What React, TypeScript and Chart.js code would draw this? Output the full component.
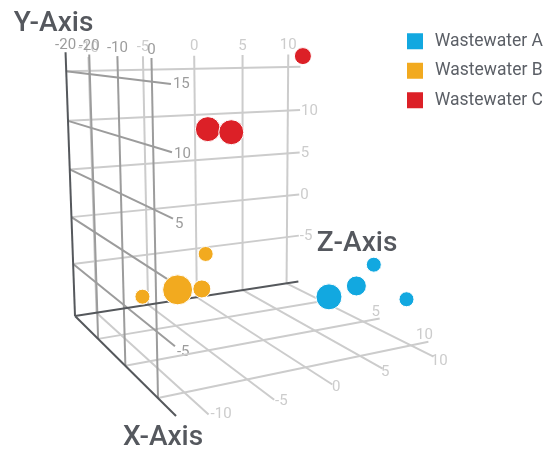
import React, { useEffect, useRef } from "react";
import { Chart, registerables } from "chart.js";

Chart.register(...registerables);

// ---- data: [x, y, z], plus bubble size
const seriesNames = ["Wastewater A", "Wastewater B", "Wastewater C"];
const seriesColors = ["#12a8e0", "#f2aa1f", "#dc2027"];
const wastewaterA = [
  [10, -4.5, 2.0, 26],
  [10, -3.9, 4.5, 20],
  [10, -2.15, 6.1, 15],
  [10, -6, 9.4, 15],
];
const wastewaterB = [
  [5, -4.35, -7.6, 30],
  [0, -7.2, -2.5, 18],
  [0, -3.55, -2.1, 15],
  [5, -4.5, -10.5, 15],
];
const wastewaterC = [
  [0, 16.4, 7.6, 17],
  [5, 10.2, -4.9, 25],
  [5, 9.8, -2.9, 25],
];

// ---- axes
const xTicks = [-5, 0, 5, 10];
const yTicks = [-5, 0, 5, 10, 15];
const zTicks = [-10, -5, 0, 5, 10];
const xRange = [-5, 12.4];
const yRange = [-10.68, 16.9];
const zRange = [-12, 11.4];
const floorZLineEnds = [13, 13, 12.75, 12.2, 12.1];
const wallTopLabels = ["-20", "-20", "-10", "0"];
const backTopLabels = ["-10", "-5", "0", "5", "10"];
const sideYLabels = ["-5", "0", "5", "10", "15"];
const backYLabels = ["-5", "0", "5", "10"];
const floorZLabels = ["-10", "-5", "0", "5", "10"];
const floorXLabels = ["0", "5", "10"];

// ---- camera: three vanishing points with the origin of the box
const project = (X: number, Y: number, Z: number) => {
  const a = -(X + 5) * 0.0152;
  const t = -(Y + 10.68) * 0.001858;
  const s = (Z + 12) * 0.00596;
  const w = 1 + a + t + s;
  return {
    x: (75 - 206 * a + 250 * t + 1900 * s) / w,
    y: (316 + 38 * a + 5200 * t + 35 * s) / w,
  };
};

const LIGHT = "#cccccc";
const MID = "#9c9c9c";
const DARK = "#55585c";
const TITLE = "#55585e";
const LIGHT_TOP = 16.4;
const sideLabelNudge = [6, 6, 6, 2, 0];

const seg = (
  from: number[],
  to: number[],
  color: string,
  order: number,
  width = 2
) => ({
  type: "line" as const,
  label: "grid",
  data: [project(from[0], from[1], from[2]), project(to[0], to[1], to[2])],
  borderColor: color,
  backgroundColor: color,
  borderWidth: width,
  pointRadius: 0,
  order,
  clip: false,
});

const gridDatasets = () => {
  const [x0, x1] = xRange;
  const [y0, y1] = yRange;
  const [z0, z1] = zRange;
  const out: any[] = [];
  zTicks.forEach((z, i) => {
    out.push(seg([x0, y0, z], [x0, LIGHT_TOP, z], LIGHT, 5));
    out.push(seg([x0, y0, z], [floorZLineEnds[i], y0, z], LIGHT, 5));
  });
  yTicks.forEach((y) => out.push(seg([x0, y, z0], [x0, y, z1], LIGHT, 5)));
  xTicks.slice(1).forEach((x) => {
    out.push(seg([x, y0, z0], [x, y0, z1 + 0.4], LIGHT, 5));
    out.push(seg([x, y0, z0], [x, y1 - 0.1, z0], MID, 4));
  });
  yTicks.forEach((y) => out.push(seg([x0, y, z0], [x1, y, z0], MID, 4)));
  out.push(seg([x0, y0, z0], [x1, y0, z0], DARK, 3));
  out.push(seg([x0, y0, z0], [x0, y1, z0], DARK, 3));
  out.push(seg([x0, y0, z0], [x0, y0, z1], DARK, 3));
  return out;
};

const bubbles = (rows: number[][], i: number) => ({
  type: "bubble" as const,
  label: seriesNames[i],
  data: rows.map(([x, y, z, size]) => ({ ...project(x, y, z), r: size / 2 })),
  backgroundColor: seriesColors[i],
  borderColor: "#ffffff",
  borderWidth: 1,
  order: 1,
  clip: false,
});

const textPlugin = {
  id: "axisText",
  afterLayout(chart: any) {
    const lg = chart.legend;
    if (lg) {
      lg.left = 395;
      lg.right = 546;
      lg.top = 20.5;
      lg.bottom = 130;
    }
  },
  beforeDatasetsDraw(chart: any) {
    const { ctx, scales } = chart;
    const put = (
      p: { x: number; y: number },
      dx: number,
      dy: number,
      text: string,
      color: string,
      align: CanvasTextAlign = "center",
      font = "400 15px Roboto"
    ) => {
      ctx.save();
      ctx.font = font;
      ctx.fillStyle = color;
      ctx.textAlign = align;
      ctx.textBaseline = "middle";
      ctx.fillText(
        text,
        scales.x.getPixelForValue(p.x) + dx,
        scales.y.getPixelForValue(p.y) + dy
      );
      ctx.restore();
    };
    const [x0, x1] = xRange;
    const [y0, y1] = yRange;
    const [z0, z1] = zRange;
    zTicks.forEach((z, i) =>
      put(project(x0, LIGHT_TOP, z), 0, -9, backTopLabels[i], LIGHT)
    );
    xTicks.forEach((x, i) =>
      put(project(x, y1 - 0.1, z0), 0, -8, wallTopLabels[i], MID)
    );
    yTicks.forEach((y, i) =>
      put(project(x1, y, z0), 2, sideLabelNudge[i], sideYLabels[i], MID, "left")
    );
    yTicks.slice(0, 4).forEach((y, i) =>
      put(project(x0, y, z1), 1, 1, backYLabels[i], LIGHT, "left")
    );
    zTicks.forEach((z, i) =>
      put(
        project(floorZLineEnds[i], y0, z),
        2 - i * 1.2,
        i * 1.2,
        floorZLabels[i],
        LIGHT,
        "left"
      )
    );
    xTicks.slice(1).forEach((x, i) =>
      put(project(x, y0, z1 + 0.4), -4, -6, floorXLabels[i], LIGHT)
    );
    const title = "500 28px Roboto";
    put({ x: 53.5, y: 24 }, 0, 0, "Y-Axis", TITLE, "center", title);
    put({ x: 163, y: 438 }, 0, 0, "X-Axis", TITLE, "center", title);
    put({ x: 357, y: 243.5 }, 0, 0, "Z-Axis", TITLE, "center", title);
  },
};

export default function App() {
  const ref = useRef<HTMLCanvasElement>(null);
  useEffect(() => {
    const chart = new Chart(ref.current as HTMLCanvasElement, {
      type: "bubble",
      data: {
        datasets: [
          bubbles(wastewaterA, 0),
          bubbles(wastewaterB, 1),
          bubbles(wastewaterC, 2),
          ...gridDatasets(),
        ] as any,
      },
      options: {
        animation: false,
        responsive: false,
        events: [],
        layout: { padding: 0, autoPadding: false },
        scales: {
          x: { type: "linear", min: 0, max: 546, display: false },
          y: { type: "linear", min: 0, max: 450, reverse: true, display: false },
        },
        plugins: {
          tooltip: { enabled: false },
          legend: {
            position: "chartArea" as any,
            align: "start",
            labels: {
              boxWidth: 16,
              boxHeight: 16,
              padding: 12,
              color: "#5b5f66",
              textAlign: "center",
              font: { family: "Roboto", size: 17.5 },
              generateLabels: (c: Chart) =>
                Chart.defaults.plugins.legend.labels
                  .generateLabels(c)
                  .filter((l: any) => l.datasetIndex < 3)
                  .map((l: any) => ({ ...l, lineWidth: 0 })),
            },
          },
        },
      },
      plugins: [textPlugin],
    });
    return () => chart.destroy();
  }, []);
  return (
    <canvas
      ref={ref}
      width={546}
      height={450}
      style={{ position: "fixed", left: 0, top: 0, width: 546, height: 450, display: "block" }}
    />
  );
}
